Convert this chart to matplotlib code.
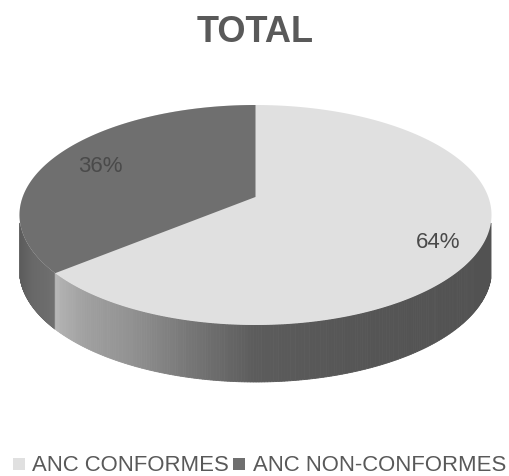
import matplotlib
matplotlib.use('Agg')
import matplotlib.pyplot as plt
import numpy as np
from matplotlib.patches import Polygon, Rectangle

categories = ['ANC CONFORMES', 'ANC NON-CONFORMES']
values = [64, 36]
colors = ['#e0e0e0', '#6f6f6f']

plt.rcParams['font.family'] = ['Liberation Sans', 'DejaVu Sans']
text_col = '#595959'

fig = plt.figure(figsize=(5.09, 4.77), dpi=100)
ax = fig.add_axes([0, 0, 1, 1])
ax.set_xlim(0, 509)
ax.set_ylim(477, 0)
ax.axis('off')

# pie position on the page
cx, cy, rx, ry = 255.5, 216, 236, 110
cy_low, ry_low = 271, 112
tilt = 0.164  # perspective, moves the apex up from the ellipse centre


def project(deg):
    a = np.radians(deg)
    x, y = np.cos(a), np.sin(a)
    w = 1 + tilt * y
    return x * np.sqrt(1 - tilt ** 2) / w, (y + tilt) / w


def top_xy(deg):
    x, y = project(deg)
    return cx + rx * x, cy - ry * y


def low_xy(deg):
    x, y = project(deg)
    return cx + rx * x, cy_low - ry_low * y


def grey(v):
    return (v / 255, v / 255, v / 255)


def wall(a0, a1, xs, shades):
    # thin strips so the side can fade
    angs = np.linspace(a0, a1, 240)
    for p, q in zip(angs[:-1], angs[1:]):
        x0, y0 = top_xy(p)
        x1, y1 = top_xy(q)
        x2, y2 = low_xy(q)
        x3, y3 = low_xy(p)
        if y0 < cy + 8 and y1 < cy + 8:
            continue
        c = grey(np.interp((x0 + x1) / 2, xs, shades))
        ax.add_patch(Polygon([(x0, y0), (x1, y1), (x2, y2), (x3, y3)], fc=c, ec=c, lw=0.6))


split = 90 - values[0] / sum(values) * 360

wall(split, -180, [20, 32, 56], [92, 104, 112])
wall(0, split, [53, 60, 85, 130, 190, 255, 350, 491], [186, 176, 160, 146, 118, 92, 86, 82])

# top face
angs = np.linspace(0, 360, 400)
ax.add_patch(Polygon(np.column_stack(top_xy(angs)), fc=colors[0], ec='none'))
angs = np.linspace(split, -270, 200)
pts = np.column_stack(top_xy(angs))
apex = (cx, cy - ry * tilt)
ax.add_patch(Polygon(np.vstack([[apex], pts]), fc=colors[1], ec='none'))

ax.text(438.5, 242.5, '%d%%' % values[0], ha='center', va='center', fontsize=16, color='#4a4a4a')
ax.text(100, 167, '%d%%' % values[1], ha='center', va='center', fontsize=16, color='#4a4a4a')

ax.text(255.5, 32, 'TOTAL', ha='center', va='center', fontsize=26, fontweight='bold', color=text_col)

# legend placed by hand, the two entries are not evenly spaced
for name, col, box_x, text_x in zip(categories, colors, [13, 233], [32, 253]):
    ax.add_patch(Rectangle((box_x, 459), 12, 12, fc=col, ec='none'))
    ax.text(text_x, 466, name, ha='left', va='center', fontsize=15.9, color=text_col)

fig.savefig('out.png', dpi=100)
